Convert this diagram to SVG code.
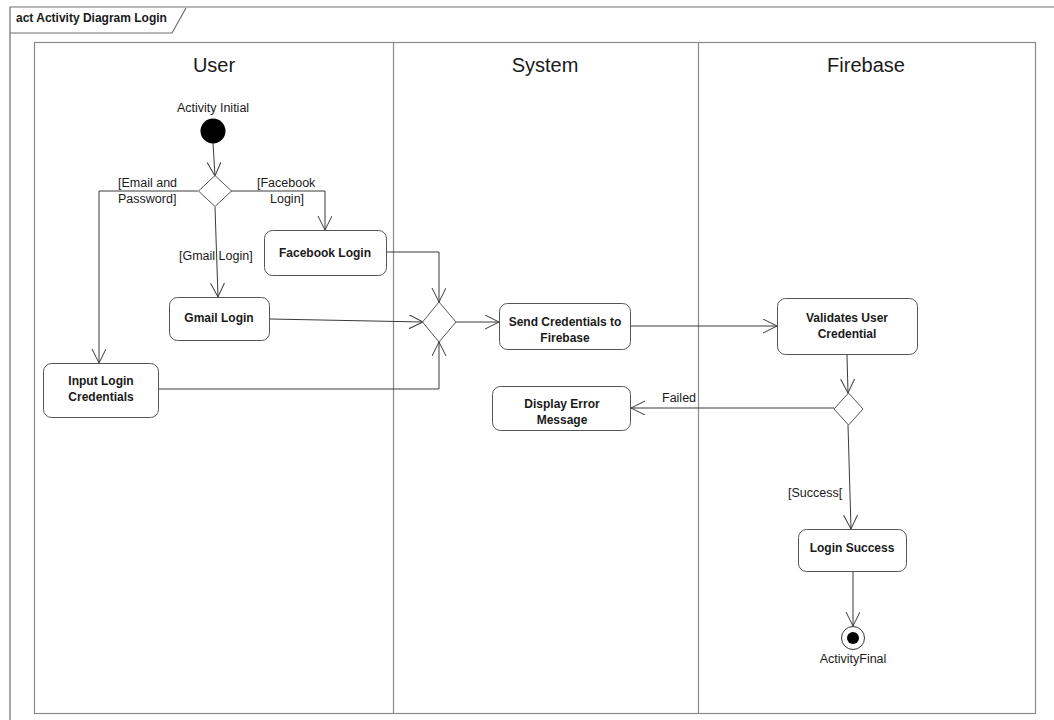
<svg xmlns="http://www.w3.org/2000/svg" width="1054" height="720" viewBox="0 0 1054 720">
  <defs>
    <marker id="open" markerUnits="userSpaceOnUse" markerWidth="16" markerHeight="16" refX="14" refY="7" orient="auto">
      <path d="M0,0 L14,7 L0,14" fill="none" stroke="#3a3a3a" stroke-width="1"/>
    </marker>
  </defs>
  <style>
    .frame { fill: none; stroke: #6e6e6e; stroke-width: 1.2; }
    .lane { fill: none; stroke: #8a8a8a; stroke-width: 1.2; }
    .act { fill: #ffffff; stroke: #555555; stroke-width: 1; }
    .dec { fill: #ffffff; stroke: #555555; stroke-width: 1; }
    .flow { fill: none; stroke: #3a3a3a; stroke-width: 1; marker-end: url(#open); }
    .t { font-family: "Liberation Sans", Arial, sans-serif; fill: #1a1a1a; }
    .title { font-size: 12px; font-weight: bold; }
    .head { font-size: 20px; text-anchor: middle; }
    .lbl { font-size: 12.5px; }
    .name { font-size: 12px; font-weight: bold; text-anchor: middle; }
  </style>
  <rect width="1054" height="720" fill="#ffffff"/>

  <!-- diagram frame with name tab -->
  <g id="frame">
    <path class="frame" d="M10,724 L10,7 L1060,7"/>
    <path class="frame" d="M10,33 L172,33 L186,8"/>
    <text class="t title" x="16" y="22">act Activity Diagram Login</text>
  </g>

  <!-- partitions -->
  <g id="lanes">
    <rect class="lane" x="34.5" y="42.5" width="1001" height="671"/>
    <line class="lane" x1="393.5" y1="42" x2="393.5" y2="714"/>
    <line class="lane" x1="698.5" y1="42" x2="698.5" y2="714"/>
    <text class="t head" x="214" y="72">User</text>
    <text class="t head" x="545" y="72">System</text>
    <text class="t head" x="866" y="72">Firebase</text>
  </g>

  <!-- control flows -->
  <g id="connectors">
    <path class="flow" d="M213,143 L215,176"/>
    <path class="flow" d="M198,191 L99,191 L99,363"/>
    <path class="flow" d="M231,191 L325,191 L325,230"/>
    <path class="flow" d="M215,207 L218,297"/>
    <path class="flow" d="M387,252 L439,252 L439,302"/>
    <path class="flow" d="M270,319 L423,322"/>
    <path class="flow" d="M159,389 L439,389 L439,342"/>
    <path class="flow" d="M456,322 L499,322"/>
    <path class="flow" d="M631,326 L777,326"/>
    <path class="flow" d="M847,355 L848,393"/>
    <path class="flow" d="M834,408 L631,408"/>
    <path class="flow" d="M848,425 L851,529"/>
    <path class="flow" d="M853,572 L853,626"/>
    <text class="t lbl" x="118" y="187">[Email and</text>
    <text class="t lbl" x="118" y="203">Password]</text>
    <text class="t lbl" x="257" y="187">[Facebook</text>
    <text class="t lbl" x="270" y="203">Login]</text>
    <text class="t lbl" x="179" y="260">[Gmail Login]</text>
    <text class="t lbl" x="662" y="402">Failed</text>
    <text class="t lbl" x="788" y="497">[Success[</text>
  </g>

  <g id="initial">
    <circle cx="213" cy="131" r="12.5" fill="#000000"/>
    <text class="t lbl" x="213" y="112" text-anchor="middle">Activity Initial</text>
  </g>

  <g id="decisionLogin">
    <polygon class="dec" points="215,175.5 231.5,191 215,206.5 198.5,191"/>
  </g>

  <g id="facebookLogin">
    <rect class="act" x="264.5" y="230.5" width="122" height="45" rx="8"/>
    <text class="t name" x="325" y="257">Facebook Login</text>
  </g>

  <g id="gmailLogin">
    <rect class="act" x="169.5" y="297.5" width="100" height="43" rx="8"/>
    <text class="t name" x="219" y="322">Gmail Login</text>
  </g>

  <g id="inputLoginCredentials">
    <rect class="act" x="43.5" y="363.5" width="115" height="54" rx="8"/>
    <text class="t name" x="101" y="385">Input Login</text>
    <text class="t name" x="101" y="401">Credentials</text>
  </g>

  <g id="merge">
    <polygon class="dec" points="439,302 456,322 439,342 422.5,322"/>
  </g>

  <g id="sendCredentials">
    <rect class="act" x="499.5" y="303.5" width="131" height="46" rx="8"/>
    <text class="t name" x="565" y="326">Send Credentials to</text>
    <text class="t name" x="565" y="342">Firebase</text>
  </g>

  <g id="validatesCredential">
    <rect class="act" x="777.5" y="298.5" width="140" height="56" rx="8"/>
    <text class="t name" x="847" y="322">Validates User</text>
    <text class="t name" x="847" y="338">Credential</text>
  </g>

  <g id="decisionResult">
    <polygon class="dec" points="848.5,393 863,409 848.5,425 834,409"/>
  </g>

  <g id="displayError">
    <rect class="act" x="492.5" y="386.5" width="138" height="44" rx="8"/>
    <text class="t name" x="562" y="408">Display Error</text>
    <text class="t name" x="562" y="424">Message</text>
  </g>

  <g id="loginSuccess">
    <rect class="act" x="798.5" y="529.5" width="108" height="42" rx="8"/>
    <text class="t name" x="852" y="552">Login Success</text>
  </g>

  <g id="final">
    <circle cx="853" cy="638" r="11.5" fill="#ffffff" stroke="#333333" stroke-width="1"/>
    <circle cx="853" cy="638" r="6" fill="#000000"/>
    <text class="t lbl" x="853" y="663" text-anchor="middle">ActivityFinal</text>
  </g>
</svg>
